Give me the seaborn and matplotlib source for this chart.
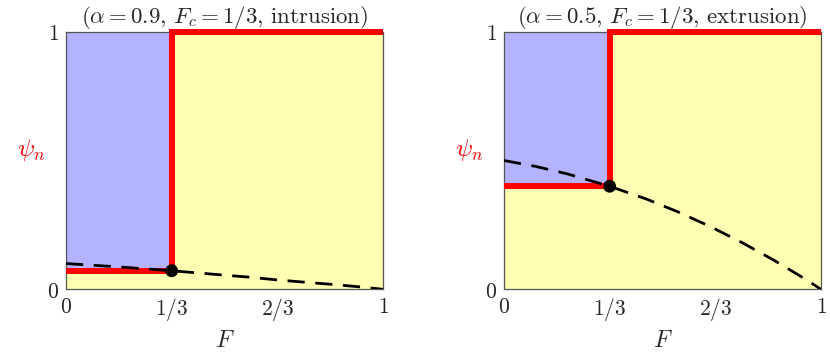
import numpy as np
import pandas as pd
import matplotlib
matplotlib.use("Agg")
import matplotlib.pyplot as plt
import seaborn as sns

# ---- data ----
titles = [r"$(\alpha = 0.9,\, F_c = 1/3,\, \mathrm{intrusion})$",
          r"$(\alpha = 0.5,\, F_c = 1/3,\, \mathrm{extrusion})$"]
F_c = 1 / 3
psi_c = [0.072, 0.40]                       # red horizontal level / dot height
F_curve_left = [0, 1/6, 1/3, 0.49, 0.58, 0.67, 0.76, 0.85, 0.94, 1]
psi_curve_left = [0.100, 0.087, 0.072, 0.056, 0.047, 0.036, 0.027, 0.018, 0.008, 0.0]
F_curve_right = [0, 0.1, 0.2, 1/3, 0.45, 0.55, 0.65, 0.75, 0.85, 0.95, 1]
psi_curve_right = [0.500, 0.477, 0.448, 0.400, 0.350, 0.300, 0.244, 0.182, 0.114, 0.040, 0.0]
curves_F = [F_curve_left, F_curve_right]
curves_psi = [psi_curve_left, psi_curve_right]
xticks = [0, 1/3, 2/3, 1]
xticklabels = ["$0$", "$1/3$", "$2/3$", "$1$"]
yticks = [0, 1]
yticklabels = ["$0$", "$1$"]

BLUE = "#b3b3ff"
YELLOW = "#ffffb3"
RED = "#ff0000"

sns.set_theme(style="white")
plt.rcParams["mathtext.fontset"] = "cm"
plt.rcParams["font.family"] = ["DejaVu Serif"]

fig = plt.figure(figsize=(8.3, 3.57), dpi=100)
lefts = [66 / 830, 504 / 830]
for i in range(2):
    ax = fig.add_axes([lefts[i], 0.1896, 317 / 830, 0.7216])
    ax.set_facecolor(YELLOW)
    ax.fill_between([0, F_c], [psi_c[i], psi_c[i]], [1, 1], color=BLUE, lw=0, zorder=1)
    step = pd.DataFrame({"F": [0, F_c, F_c, 1], "psi": [psi_c[i], psi_c[i], 1, 1]})
    sns.lineplot(data=step, x="F", y="psi", sort=False, estimator=None, ax=ax,
                 color=RED, lw=4.3, zorder=3, clip_on=False,
                 solid_joinstyle="miter", solid_capstyle="butt")
    cdf = pd.DataFrame({"F": curves_F[i], "psi": curves_psi[i]})
    sns.lineplot(data=cdf, x="F", y="psi", sort=False, estimator=None, ax=ax,
                 color="black", lw=2.0, zorder=4)
    ax.lines[-1].set_dashes([6.2, 3.8])
    sns.scatterplot(x=[F_c], y=[psi_c[i]], ax=ax, color="black", s=85,
                    zorder=5, edgecolor="none", clip_on=False)
    ax.set_xlim(0, 1)
    ax.set_ylim(0, 1)
    ax.set_xticks(xticks)
    ax.set_xticklabels(xticklabels, fontsize=15.5)
    ax.set_yticks(yticks)
    ax.set_yticklabels(yticklabels, fontsize=15.5)
    ax.tick_params(axis="x", length=0, pad=5)
    ax.tick_params(axis="y", length=0, pad=5)
    for s in ax.spines.values():
        s.set_color("#555555")
        s.set_linewidth(0.9)
        s.set_zorder(2)
    ax.set_xlabel("$F$", fontsize=17, labelpad=4)
    ax.set_ylabel(r"$\psi_n$", fontsize=18, color=RED, rotation=0)
    ax.yaxis.set_label_coords(-0.11, 0.54)
    ax.yaxis.label.set_verticalalignment("center")
    ax.set_title(titles[i], fontsize=16.5, pad=6)

fig.savefig("out.png", dpi=100)
